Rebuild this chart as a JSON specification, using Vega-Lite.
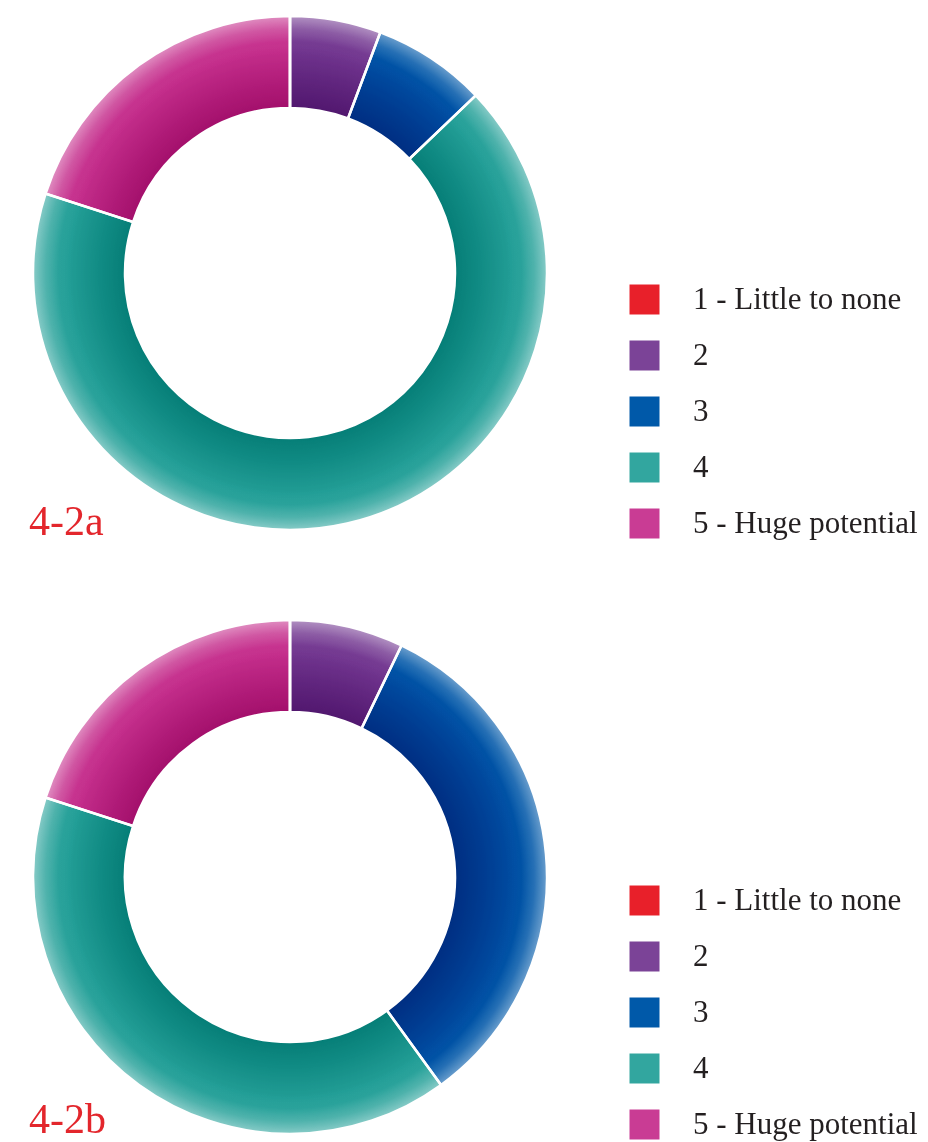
{
  "$schema": "https://vega.github.io/schema/vega-lite/v6.json",
  "background": "white",
  "padding": {"left": 0, "top": 8, "right": 0, "bottom": 0},
  "config": {"view": {"stroke": null}},
  "datasets": {
    "potential_a": [
      {"rating": "1 - Little to none", "level": 1, "count": 0},
      {"rating": "2", "level": 2, "count": 4},
      {"rating": "3", "level": 3, "count": 5},
      {"rating": "4", "level": 4, "count": 47},
      {"rating": "5 - Huge potential", "level": 5, "count": 14}
    ],
    "potential_b": [
      {"rating": "1 - Little to none", "level": 1, "count": 0},
      {"rating": "2", "level": 2, "count": 5},
      {"rating": "3", "level": 3, "count": 23},
      {"rating": "4", "level": 4, "count": 28},
      {"rating": "5 - Huge potential", "level": 5, "count": 14}
    ]
  },
  "bounds": "flush",
  "spacing": 74,
  "resolve": {
    "scale": {"color": "independent", "theta": "independent"},
    "legend": {"color": "independent"}
  },
  "vconcat": [
    {
      "width": 580,
      "height": 530,
      "data": {"name": "potential_a"},
      "title": {
        "text": "4-2a", "orient": "bottom", "anchor": "start", "frame": "group",
        "offset": -4, "dx": 29, "baseline": "alphabetic",
        "font": "Liberation Serif", "fontSize": 42, "fontWeight": "normal", "color": "#e3262c"
      },
      "layer": [
        {
          "mark": {"type": "arc", "innerRadius": 165, "outerRadius": 257},
          "encoding": {
            "theta": {"field": "count", "type": "quantitative", "stack": true},
            "order": {"field": "level", "type": "quantitative"},
            "color": {
              "field": "rating", "type": "nominal",
              "scale": {
                "domain": ["1 - Little to none", "2", "3", "4", "5 - Huge potential"],
                "range": ["#e8202a", "#7b4397", "#0059a9", "#32a69f", "#c93c94"]
              },
              "legend": {
                "title": null, "orient": "none", "legendX": 629, "legendY": 276,
                "padding": 0, "symbolType": "square", "symbolSize": 900, "symbolStrokeWidth": 0,
                "labelFont": "Liberation Serif", "labelFontSize": 31, "labelColor": "#231f20",
                "labelOffset": 33, "labelLimit": 400, "rowPadding": 24
              }
            }
          }
        },
        {
          "transform": [{"aggregate": [{"op": "sum", "field": "count", "as": "total"}]}],
          "mark": {
            "type": "arc", "innerRadius": 165, "outerRadius": 257, "blend": "color-burn",
            "fill": {
              "gradient": "radial", "x1": 0.5, "y1": 0.5, "r1": 0, "x2": 0.5, "y2": 0.5, "r2": 0.5,
              "stops": [
                {"offset": 0, "color": "#d2d2d2"},
                {"offset": 0.64, "color": "#d2d2d2"},
                {"offset": 0.75, "color": "#dedede"},
                {"offset": 0.85, "color": "#ebebeb"},
                {"offset": 0.93, "color": "#fafafa"},
                {"offset": 1, "color": "#ffffff"}
              ]
            }
          },
          "encoding": {"theta": {"field": "total", "type": "quantitative"}}
        },
        {
          "transform": [{"aggregate": [{"op": "sum", "field": "count", "as": "total"}]}],
          "mark": {
            "type": "arc", "innerRadius": 165, "outerRadius": 257,
            "fill": {
              "gradient": "radial", "x1": 0.5, "y1": 0.5, "r1": 0, "x2": 0.5, "y2": 0.5, "r2": 0.5,
              "stops": [
                {"offset": 0, "color": "rgba(0,0,0,0.14)"},
                {"offset": 0.64, "color": "rgba(0,0,0,0.14)"},
                {"offset": 0.75, "color": "rgba(0,0,0,0.08)"},
                {"offset": 0.85, "color": "rgba(0,0,0,0.02)"},
                {"offset": 0.9, "color": "rgba(255,255,255,0)"},
                {"offset": 0.95, "color": "rgba(255,255,255,0.15)"},
                {"offset": 1, "color": "rgba(255,255,255,0.42)"}
              ]
            }
          },
          "encoding": {"theta": {"field": "total", "type": "quantitative"}}
        },
        {
          "mark": {"type": "arc", "innerRadius": 165, "outerRadius": 257, "fill": "transparent", "stroke": "white", "strokeWidth": 2.5},
          "encoding": {
            "theta": {"field": "count", "type": "quantitative", "stack": true},
            "order": {"field": "level", "type": "quantitative"},
            "detail": {"field": "rating", "type": "nominal"}
          }
        }
      ]
    },
    {
      "width": 580,
      "height": 530,
      "data": {"name": "potential_b"},
      "title": {
        "text": "4-2b", "orient": "bottom", "anchor": "start", "frame": "group",
        "offset": -9, "dx": 29, "baseline": "alphabetic",
        "font": "Liberation Serif", "fontSize": 42, "fontWeight": "normal", "color": "#e3262c"
      },
      "layer": [
        {
          "mark": {"type": "arc", "innerRadius": 165, "outerRadius": 257},
          "encoding": {
            "theta": {"field": "count", "type": "quantitative", "stack": true},
            "order": {"field": "level", "type": "quantitative"},
            "color": {
              "field": "rating", "type": "nominal",
              "scale": {
                "domain": ["1 - Little to none", "2", "3", "4", "5 - Huge potential"],
                "range": ["#e8202a", "#7b4397", "#0059a9", "#32a69f", "#c93c94"]
              },
              "legend": {
                "title": null, "orient": "none", "legendX": 629, "legendY": 273,
                "padding": 0, "symbolType": "square", "symbolSize": 900, "symbolStrokeWidth": 0,
                "labelFont": "Liberation Serif", "labelFontSize": 31, "labelColor": "#231f20",
                "labelOffset": 33, "labelLimit": 400, "rowPadding": 24
              }
            }
          }
        },
        {
          "transform": [{"aggregate": [{"op": "sum", "field": "count", "as": "total"}]}],
          "mark": {
            "type": "arc", "innerRadius": 165, "outerRadius": 257, "blend": "color-burn",
            "fill": {
              "gradient": "radial", "x1": 0.5, "y1": 0.5, "r1": 0, "x2": 0.5, "y2": 0.5, "r2": 0.5,
              "stops": [
                {"offset": 0, "color": "#d2d2d2"},
                {"offset": 0.64, "color": "#d2d2d2"},
                {"offset": 0.75, "color": "#dedede"},
                {"offset": 0.85, "color": "#ebebeb"},
                {"offset": 0.93, "color": "#fafafa"},
                {"offset": 1, "color": "#ffffff"}
              ]
            }
          },
          "encoding": {"theta": {"field": "total", "type": "quantitative"}}
        },
        {
          "transform": [{"aggregate": [{"op": "sum", "field": "count", "as": "total"}]}],
          "mark": {
            "type": "arc", "innerRadius": 165, "outerRadius": 257,
            "fill": {
              "gradient": "radial", "x1": 0.5, "y1": 0.5, "r1": 0, "x2": 0.5, "y2": 0.5, "r2": 0.5,
              "stops": [
                {"offset": 0, "color": "rgba(0,0,0,0.14)"},
                {"offset": 0.64, "color": "rgba(0,0,0,0.14)"},
                {"offset": 0.75, "color": "rgba(0,0,0,0.08)"},
                {"offset": 0.85, "color": "rgba(0,0,0,0.02)"},
                {"offset": 0.9, "color": "rgba(255,255,255,0)"},
                {"offset": 0.95, "color": "rgba(255,255,255,0.15)"},
                {"offset": 1, "color": "rgba(255,255,255,0.42)"}
              ]
            }
          },
          "encoding": {"theta": {"field": "total", "type": "quantitative"}}
        },
        {
          "mark": {"type": "arc", "innerRadius": 165, "outerRadius": 257, "fill": "transparent", "stroke": "white", "strokeWidth": 2.5},
          "encoding": {
            "theta": {"field": "count", "type": "quantitative", "stack": true},
            "order": {"field": "level", "type": "quantitative"},
            "detail": {"field": "rating", "type": "nominal"}
          }
        }
      ]
    }
  ]
}
